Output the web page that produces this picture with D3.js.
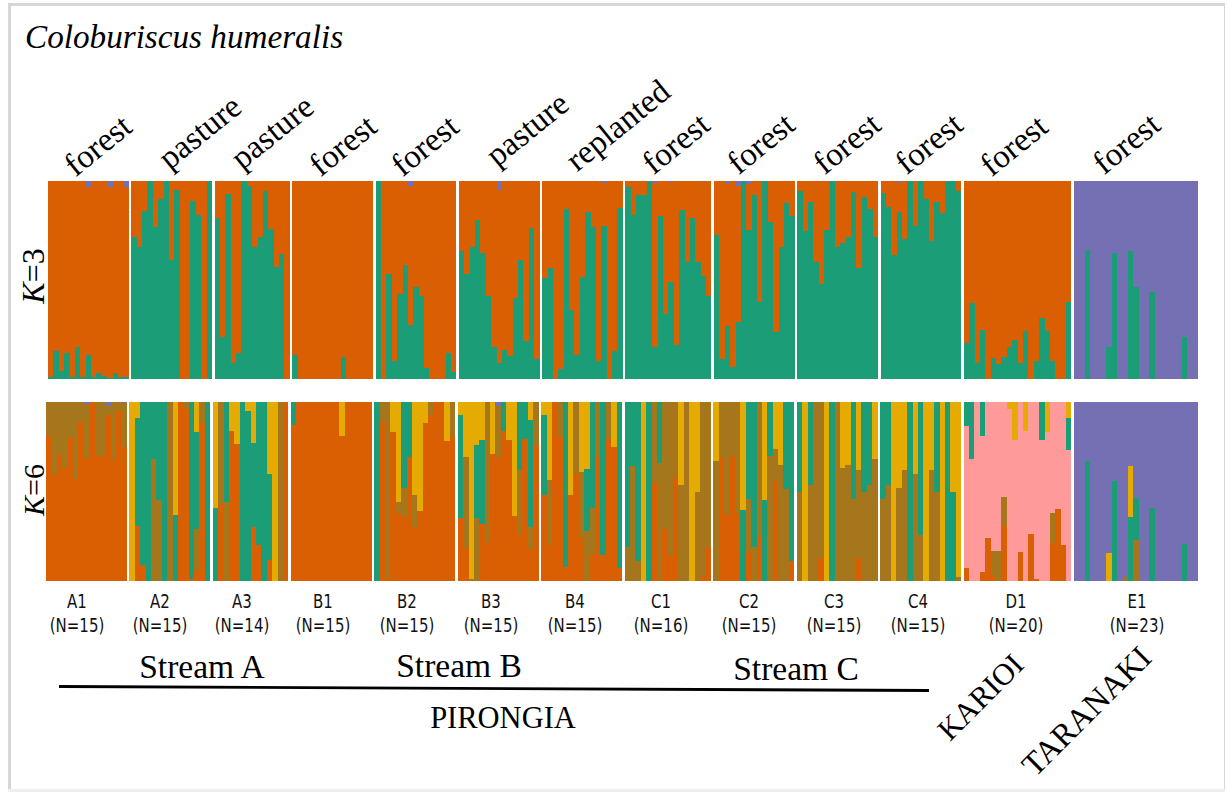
<!DOCTYPE html>
<html>
<head>
<meta charset="utf-8">
<script src="https://cdn.jsdelivr.net/npm/d3@7"></script>
<style>
  html, body { margin: 0; padding: 0; background: #fff; }
  svg { display: block; }
  .serif { font-family: "Liberation Serif", serif; fill: #000; }
  .pop { font-family: "DejaVu Sans", sans-serif; fill: #111; }
</style>
</head>
<body>
<div id="chart"></div>
<script>
// populations, left to right
var popNames = ['A1', 'A2', 'A3', 'B1', 'B2', 'B3', 'B4', 'C1', 'C2', 'C3', 'C4', 'D1', 'E1'];
var popSizes = [15, 15, 14, 15, 15, 15, 15, 16, 15, 15, 15, 20, 23];
var habitats = ['forest', 'pasture', 'pasture', 'forest', 'forest', 'pasture', 'replanted',
  'forest', 'forest', 'forest', 'forest', 'forest', 'forest'];
var streams = ['Stream A', 'Stream B', 'Stream C'];
var regions = ['PIRONGIA', 'KARIOI', 'TARANAKI'];

// K=3, percent of ancestry per individual. rest of the bar is orange
var k3Green = [
  [1, 14, 4, 13, 1, 16, 1, 12, 1, 3, 1.5, 0.5, 3, 1, 1],
  [71.5, 66.7, 85, 100, 77, 91, 100, 60, 95.5, 0, 0, 90, 83, 0, 100],
  [81.5, 21, 93.5, 8, 13, 100, 97.5, 66.5, 71.5, 95, 76, 56.5, 63, 0],
  [12, 0, 0, 0, 0, 0, 0, 0, 0, 11, 0, 0, 0, 0, 0],
  [100, 0, 53, 9, 43, 57.5, 27.5, 46.5, 42, 5.5, 0, 0, 0, 13, 3.5],
  [64.5, 53, 66.5, 80.5, 63.5, 42, 16, 8, 14.5, 11.5, 41, 60, 19, 76.5, 10],
  [51, 56, 0, 5, 86, 35, 12, 51.5, 84.5, 77, 9, 77.5, 0, 14, 86.5],
  [97, 83, 93, 93, 100, 16, 82.5, 33, 49, 17, 85.5, 59, 81.5, 59, 52, 42],
  [72.5, 10, 27, 6, 29, 100, 75.5, 93, 39, 100, 79.5, 23.5, 66.5, 89, 82.5],
  [95, 74.5, 89.5, 59, 48, 75.5, 100, 66.5, 68.5, 71.5, 94.5, 56, 92, 86, 71.5],
  [94, 87, 62.5, 84.5, 70.5, 100, 77.5, 100, 91, 69.5, 89.5, 84, 100, 100, 95],
  [18, 38.5, 8, 25, 0, 10.5, 7.5, 11, 16, 19.5, 8, 24, 0, 9, 31, 24, 9, 0, 0, 39],
  [0, 0, 65, 0, 0, 0, 16, 63.5, 0, 0, 64.5, 46.5, 0, 0, 44, 0, 0, 0, 0, 0, 21, 0, 0]
];
var k3Purple = [
  [0, 0, 0, 0, 0, 0, 0, 3, 0, 0, 0, 3, 0, 0, 3],
  [0, 0, 0, 0, 0, 0, 0, 0, 0, 0, 0, 0, 0, 0, 0],
  [0, 0, 0, 0, 0, 0, 0, 0, 0, 0, 0, 0, 0, 0],
  [0, 0, 0, 0, 0, 0, 0, 0, 0, 0, 0, 0, 0, 0, 0],
  [0, 0, 0, 0, 0, 0, 2.5, 0, 0, 0, 0, 0, 0, 0, 0],
  [0, 0, 0, 0, 0, 0, 0, 4.5, 0, 0, 0, 0, 0, 0, 0],
  [0, 0, 0, 0, 0, 0, 0, 0, 0, 0, 0, 1, 0, 0, 0],
  [0, 0, 0, 0, 0, 1, 0, 0, 0.5, 0, 0, 0, 0, 0, 0.5, 0],
  [0, 0, 1.5, 0, 2.5, 0, 1.5, 0, 0, 0, 0, 0, 0, 0, 0],
  [0, 0, 0, 0, 0, 0, 0, 0, 0, 0, 0, 0, 0, 0, 0],
  [0, 0, 0, 1, 0, 0, 0, 0, 0, 0, 0, 0, 0, 0, 0],
  [0, 0, 0, 0, 0, 0, 0, 0, 0, 0, 0, 0, 0, 0, 0, 0, 0, 0, 0, 0],
  [100, 100, 35, 100, 100, 100, 84, 36.5, 100, 100, 35.5, 53.5, 100, 100, 56, 100, 100, 100, 100, 100, 79, 100, 100]
];

// K=6, each individual is [orange, brown, pink, green, yellow], what is left over is purple
var k6Shares = [
  [[81, 19, 0, 0, 0], [59, 41, 0, 0, 0], [71, 29, 0, 0, 0], [63, 37, 0, 0, 0], [80, 20, 0, 0, 0],
    [57, 43, 0, 0, 0], [89, 11, 0, 0, 0], [68.5, 30.2, 0, 0, 0], [100, 0, 0, 0, 0], [70, 30, 0, 0, 0],
    [70, 30, 0, 0, 0], [93, 4.8, 0, 0, 0], [67.5, 32.5, 0, 0, 0], [95, 5, 0, 0, 0], [75, 24.5, 0, 0, 0]],
  [[0, 0, 0, 0, 100], [31, 0, 0, 60, 9], [9, 0, 0, 91, 0], [0, 0, 0, 100, 0], [0, 68, 0, 32, 0],
    [0, 45, 0, 55, 0], [0, 0, 0, 100, 0], [0, 100, 0, 0, 0], [0, 0, 0, 37, 63], [100, 0, 0, 0, 0],
    [96, 4, 0, 0, 0], [1, 0, 0, 99, 0], [6, 23, 0, 54, 17], [88, 12, 0, 0, 0], [0, 0, 0, 100, 0]],
  [[0, 0, 0, 41, 59], [42.5, 57.5, 0, 0, 0], [0, 44, 0, 56, 0], [84, 0, 0, 0, 16], [76.6, 0, 0, 0, 23.4],
    [0, 0, 0, 100, 0], [0, 0, 0, 95, 5], [30, 0, 0, 47, 23], [20, 0, 0, 80, 0], [0, 0, 0, 100, 0],
    [12, 0, 0, 48, 40], [0, 0, 0, 0, 100], [0, 100, 0, 0, 0], [100, 0, 0, 0, 0]],
  [[87, 0, 0, 13, 0], [100, 0, 0, 0, 0], [100, 0, 0, 0, 0], [100, 0, 0, 0, 0], [100, 0, 0, 0, 0],
    [100, 0, 0, 0, 0], [100, 0, 0, 0, 0], [100, 0, 0, 0, 0], [100, 0, 0, 0, 0], [81, 0, 0, 0, 19],
    [100, 0, 0, 0, 0], [100, 0, 0, 0, 0], [100, 0, 0, 0, 0], [100, 0, 0, 0, 0], [100, 0, 0, 0, 0]],
  [[0, 0, 0, 100, 0], [89, 11, 0, 0, 0], [1, 99, 0, 0, 0], [83, 0, 0, 0, 17], [38, 6, 0, 0, 56],
    [36, 16, 0, 48, 0], [69.5, 0, 0, 30.5, 0], [30, 18, 0, 0, 52], [39, 0, 0, 0, 61], [88, 0, 0, 0, 12],
    [93, 7, 0, 0, 0], [100, 0, 0, 0, 0], [100, 0, 0, 0, 0], [78, 0, 0, 0, 22], [81, 19, 0, 0, 0]],
  [[35, 0, 0, 58, 7], [18.5, 50.5, 0, 0, 31], [0, 1, 0, 0, 99], [0, 35, 0, 41, 24], [32, 0, 0, 47, 21],
    [21, 79, 0, 0, 0], [71, 0, 0, 0, 29], [69.5, 28.5, 0, 0, 0], [84, 0, 0, 16, 0], [79, 0, 0, 0, 21],
    [36.5, 0, 0, 0, 63.5], [25.5, 36.7, 0, 37.8, 0], [79.6, 0, 0, 20.4, 0], [18, 12.4, 0, 59.6, 10], [76, 24, 0, 0, 0]],
  [[48, 0, 0, 45, 7], [20, 36.5, 0, 0, 43.5], [100, 0, 0, 0, 0], [80.5, 19.5, 0, 0, 0], [8, 0, 0, 92, 0],
    [48, 0, 0, 0, 52], [60, 40, 0, 0, 0], [24, 37, 0, 0, 39], [0, 28, 0, 34.5, 37.5], [15, 26, 0, 59, 0],
    [70, 30, 0, 0, 0], [14.4, 0, 0, 85.6, 0], [79.4, 20.6, 0, 0, 0], [75, 0, 0, 0, 25], [7, 0, 0, 93, 0]],
  [[0, 19, 0, 81, 0], [0, 64, 0, 36, 0], [0, 11, 0, 89, 0], [0, 0, 0, 0, 100], [0, 0, 0, 100, 0],
    [55, 45, 0, 0, 0], [0, 66, 0, 34, 0], [29, 71, 0, 0, 0], [14, 86, 0, 0, 0], [58, 42, 0, 0, 0],
    [0, 53.5, 0, 0, 46.5], [0, 100, 0, 0, 0], [0, 0, 0, 0, 100], [0, 49.5, 0, 0, 50.5], [2, 98, 0, 0, 0], [19, 81, 0, 0, 0]],
  [[0, 67, 0, 0, 33], [69.5, 30.5, 0, 0, 0], [37, 63, 0, 0, 0], [70, 30, 0, 0, 0], [38, 62, 0, 0, 0],
    [0, 0, 0, 39.5, 60.5], [16, 30, 0, 54, 0], [0, 19, 0, 81, 0], [25, 75, 0, 0, 0], [0, 0, 0, 45, 55],
    [0, 70, 0, 30, 0], [56, 17.6, 0, 0, 26.4], [0, 65, 0, 0, 35], [0, 51.5, 0, 48.5, 0], [11, 0, 0, 89, 0]],
  [[0, 50, 0, 50, 0], [0, 0, 0, 0, 100], [0, 53.5, 0, 46.5, 0], [0, 100, 0, 0, 0], [13, 87, 0, 0, 0],
    [0, 0, 0, 0, 100], [0, 0, 0, 100, 0], [0, 100, 0, 0, 0], [0, 63, 0, 0, 37], [0, 65, 0, 0, 35],
    [0, 45.7, 0, 54.3, 0], [13, 49, 0, 0, 38], [0, 50, 0, 50, 0], [0, 53.7, 0, 46.3, 0], [0, 68, 0, 0, 32]],
  [[0, 46, 0, 54, 0], [0, 53.7, 0, 46.3, 0], [0, 0, 0, 0, 100], [0, 52, 0, 0, 48], [0, 62, 0, 0, 38],
    [0, 0, 0, 100, 0], [0, 60, 0, 0, 40], [0, 25.7, 0, 74.3, 0], [0, 0, 0, 0, 100], [0, 62, 0, 0, 38],
    [0, 50, 0, 50, 0], [0, 0, 0, 0, 100], [0, 0, 0, 100, 0], [0, 0, 0, 50, 50], [0, 2, 0, 0, 98]],
  [[7.3, 0, 79.2, 13.5, 0], [0, 0, 68, 32, 0], [0, 0, 100, 0, 0], [5, 0, 76, 19, 0], [24, 0, 76, 0, 0],
    [2.6, 14, 83.4, 0, 0], [0, 16.7, 83.3, 0, 0], [31, 16, 53, 0, 0], [0, 0, 96, 0, 4], [0, 0, 79, 0, 21],
    [16, 0, 84, 0, 0], [0, 0, 84, 0, 16], [26, 0, 74, 0, 0], [1, 0, 99, 0, 0], [0, 0, 79, 21, 0],
    [0, 0, 83, 0, 17], [21, 17, 62, 0, 0], [40.5, 0, 59.5, 0, 0], [20, 0, 80, 0, 0], [0, 0, 73, 18, 9]],
  [[0, 0, 0, 0, 0], [0, 0, 0, 0, 0], [0, 0, 0, 67, 0], [0, 0, 0, 0, 0], [0, 0, 0, 0, 0],
    [0, 0, 0, 0, 0], [0, 0, 0, 0, 15.5], [0, 0, 0, 56, 0], [0, 0, 0, 0, 0], [0, 2, 0, 0, 0],
    [0, 0, 0, 36, 28], [0, 23, 0, 23.5, 0], [0, 0, 0, 0, 0], [0, 0, 0, 0, 0], [0, 0, 0, 40.6, 0],
    [0, 0, 0, 0, 0], [0, 0, 0, 0, 0], [0, 0, 0, 0, 0], [0, 0, 0, 0, 0], [0, 0, 0, 0, 0],
    [0, 0, 0, 20.4, 0], [0, 0, 0, 0, 0], [0, 0, 0, 0, 0]]
];

var colors = {
  orange: '#d95f02',
  brown: '#a6761d',
  pink: '#ff9a9a',
  green: '#1b9e77',
  yellow: '#e6ab02',
  purple: '#7570b3'
};

var width = 1227,
  height = 792,
  popGap = 0.48; // gap between populations, in individuals

// where the text sits
var habitatPos = [[75.5, 177.5], [169.5, 170.5], [242, 170.5], [320.5, 177.5], [402.5, 177.5], [497, 167.5], [577, 172.5],
  [653.5, 175.5], [738.5, 175.5], [824.5, 175.5], [906.5, 175.5], [991.5, 177.5], [1104, 175.5]];
var popLabelX = [77, 160, 242, 323, 407, 491, 575, 661, 749, 834, 918, 1016, 1137];
var streamPos = [[202, 678], [459, 677], [796, 680]];

var svg = d3.select('#chart').append('svg')
  .attr('width', width)
  .attr('height', height);

// frame round the figure
svg.append('rect').attr('x', 8).attr('y', 3).attr('width', 1217).attr('height', 3).attr('fill', '#d6d6d6');
svg.append('rect').attr('x', 8).attr('y', 3).attr('width', 3).attr('height', 789).attr('fill', '#d6d6d6');
svg.append('rect').attr('x', 1224).attr('y', 3).attr('width', 1).attr('height', 786).attr('fill', '#d6d6d6');
svg.append('rect').attr('x', 8).attr('y', 789).attr('width', 1217).attr('height', 3).attr('fill', '#efefef');

// one x position per individual, with a small gap between populations
var flat = [];
var pos = 0;
popNames.forEach(function (name, p) {
  d3.range(popSizes[p]).forEach(function (i) {
    flat.push({ pop: p, ind: i, start: pos });
    pos += 1;
  });
  pos += popGap;
});
var xDomain = [0, pos - popGap];

function drawPanel(rows, keys, x0, x1, top, bottom) {
  var x = d3.scaleLinear().domain(xDomain).range([x0, x1]);
  var y = d3.scaleLinear().domain([0, 100]).range([bottom, top]);
  var series = d3.stack().keys(keys)(rows);

  svg.append('g').selectAll('g')
    .data(series)
    .join('g')
    .attr('fill', function (s) { return colors[s.key]; })
    .selectAll('rect')
    .data(function (s) { return s; })
    .join('rect')
    .attr('shape-rendering', 'crispEdges')
    .attr('x', function (d, i) { return x(flat[i].start); })
    .attr('width', function (d, i) { return x(flat[i].start + 1) - x(flat[i].start); })
    .attr('y', function (d) { return y(d[1]); })
    .attr('height', function (d) { return Math.max(0, y(d[0]) - y(d[1])); });
}

var k3Rows = flat.map(function (f) {
  var green = k3Green[f.pop][f.ind],
    purple = k3Purple[f.pop][f.ind];
  return { green: green, orange: 100 - green - purple, purple: purple };
});
drawPanel(k3Rows, ['green', 'orange', 'purple'], 48, 1197.7, 181, 379);

var k6Rows = flat.map(function (f) {
  var s = k6Shares[f.pop][f.ind];
  return {
    orange: s[0], brown: s[1], pink: s[2], green: s[3], yellow: s[4],
    purple: Math.max(0, 100 - d3.sum(s))
  };
});
drawPanel(k6Rows, ['orange', 'brown', 'pink', 'green', 'yellow', 'purple'], 46, 1198, 402, 581);

// title
svg.append('text').attr('class', 'serif')
  .attr('x', 25).attr('y', 48)
  .attr('font-size', 33.2).attr('font-style', 'italic')
  .text('Coloburiscus humeralis');

// K labels
[['3', 44, 276, 32], ['6', 44, 490, 30]].forEach(function (d) {
  var t = svg.append('text').attr('class', 'serif')
    .attr('transform', 'translate(' + d[1] + ',' + d[2] + ') rotate(-90)')
    .attr('text-anchor', 'middle')
    .attr('font-size', d[3]);
  t.append('tspan').attr('font-style', 'italic').text('K');
  t.append('tspan').text('=' + d[0]);
});

// habitat labels
svg.selectAll('.habitat')
  .data(habitats)
  .join('text')
  .attr('class', 'habitat serif')
  .attr('transform', function (d, i) {
    return 'translate(' + habitatPos[i][0] + ',' + habitatPos[i][1] + ') rotate(-39)';
  })
  .attr('font-size', 33)
  .text(function (d) { return d; });

// population labels, the original text is squeezed sideways
var popLabels = svg.selectAll('.poplabel')
  .data(popNames)
  .join('g')
  .attr('class', 'poplabel pop')
  .attr('font-size', 20)
  .attr('text-anchor', 'middle')
  .attr('transform', function (d, i) { return 'translate(' + popLabelX[i] + ',0)'; });
popLabels.append('text')
  .attr('transform', 'translate(0,608) scale(0.75,1)')
  .text(function (d) { return d; });
popLabels.append('text')
  .attr('transform', 'translate(0,632) scale(0.75,1)')
  .text(function (d, i) { return '(N=' + popSizes[i] + ')'; });

// streams and regions
svg.selectAll('.stream')
  .data(streams)
  .join('text')
  .attr('class', 'stream serif')
  .attr('x', function (d, i) { return streamPos[i][0]; })
  .attr('y', function (d, i) { return streamPos[i][1]; })
  .attr('text-anchor', 'middle')
  .attr('font-size', 33.5)
  .text(function (d) { return d; });

svg.append('line')
  .attr('x1', 59).attr('y1', 686.5)
  .attr('x2', 929).attr('y2', 690.5)
  .attr('stroke', '#000').attr('stroke-width', 2.8);

svg.append('text').attr('class', 'serif')
  .attr('x', 503).attr('y', 728)
  .attr('text-anchor', 'middle').attr('font-size', 30.5)
  .text(regions[0]);

[[regions[1], 950, 742, 30.5], [regions[2], 1035, 778, 32.5]].forEach(function (d) {
  svg.append('text').attr('class', 'serif')
    .attr('transform', 'translate(' + d[1] + ',' + d[2] + ') rotate(-45)')
    .attr('font-size', d[3])
    .text(d[0]);
});
</script>
</body>
</html>
